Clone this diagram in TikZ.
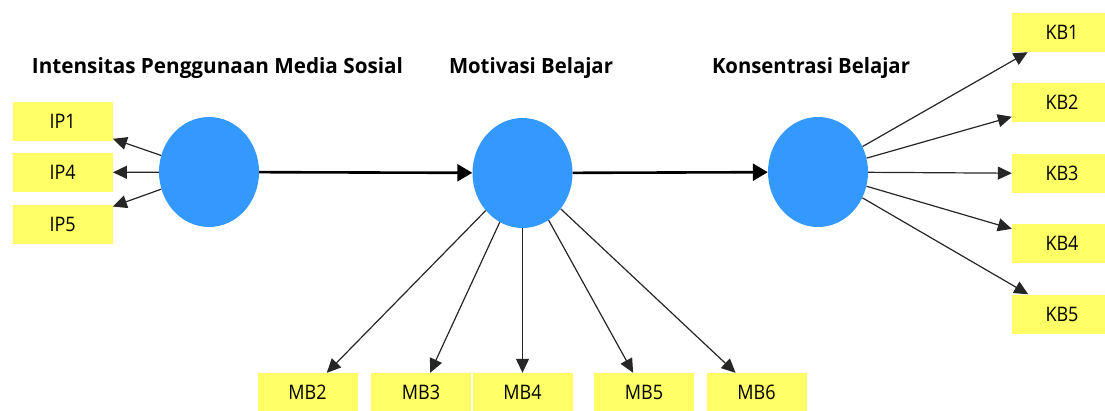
\documentclass[tikz,border=0pt]{standalone}
\usepackage{fontspec}
\setmainfont{Open Sans}
\usetikzlibrary{arrows.meta,shapes.geometric}
\definecolor{lvblue}{HTML}{3399FF}
\definecolor{indyellow}{HTML}{FFFF66}
\definecolor{loadgray}{HTML}{262626}
\newcommand{\sqz}[1]{\scalebox{0.9}[1]{#1}}
\newcommand{\ttl}[2]{\resizebox{#1}{\height}{#2}}
\tikzset{
  latent/.style={ellipse, fill=lvblue, draw=none, minimum width=100pt, minimum height=110pt, inner sep=0pt},
  indicator/.style={rectangle, fill=indyellow, draw=none, minimum width=100pt, minimum height=39pt, inner sep=0pt, font=\fontsize{20}{20}\selectfont},
  title/.style={anchor=base, inner sep=0pt, font=\fontsize{21}{21}\selectfont\bfseries},
  loading/.style={line width=1.2pt, draw=loadgray, -{Triangle[length=14pt,width=13pt]}},
  structural/.style={line width=2.6pt, draw=black, -{Triangle[length=15pt,width=17pt]}}
}
\begin{document}
\begin{tikzpicture}[x=1pt,y=-1pt]
\useasboundingbox (0,0) rectangle (1105,410);
% latent variables
\node[latent] (IP) at (209,172) {};
\node[latent] (MB) at (522.5,173) {};
\node[latent] (KB) at (818,172) {};
% titles
\node[title] (tIP) at (217.5,73) {\ttl{371pt}{Intensitas Penggunaan Media Sosial}};
\node[title] (tMB) at (531,73) {\ttl{164pt}{Motivasi Belajar}};
\node[title] (tKB) at (811,73) {\ttl{198pt}{Konsentrasi Belajar}};
% IP indicators
\node[indicator] (IP1) at (62.7,121.5) {\sqz{IP1}};
\node[indicator] (IP4) at (62.7,172.5) {\sqz{IP4}};
\node[indicator] (IP5) at (62.7,224.5) {\sqz{IP5}};
% MB indicators
\node[indicator] (MB2) at (307.5,392.5) {\sqz{MB2}};
\node[indicator] (MB3) at (421,392.5) {\sqz{MB3}};
\node[indicator] (MB4) at (522.5,392.5) {\sqz{MB4}};
\node[indicator] (MB5) at (644,392.5) {\sqz{MB5}};
\node[indicator] (MB6) at (756.5,392.5) {\sqz{MB6}};
% KB indicators
\node[indicator] (KB1) at (1062,32.5) {\sqz{KB1}};
\node[indicator] (KB2) at (1062,102.5) {\sqz{KB2}};
\node[indicator] (KB3) at (1062,173.5) {\sqz{KB3}};
\node[indicator] (KB4) at (1062,243.5) {\sqz{KB4}};
\node[indicator] (KB5) at (1062,314) {\sqz{KB5}};
% loadings
\foreach \i in {IP1,IP4,IP5} \draw[loading] (IP) -- (\i);
\foreach \i in {MB2,MB3,MB4,MB5,MB6} \draw[loading] (MB) -- (\i);
\foreach \i in {KB1,KB2,KB3,KB4,KB5} \draw[loading] (KB) -- (\i);
% structural paths
\draw[structural] (IP) -- (MB);
\draw[structural] (MB) -- (KB);
\end{tikzpicture}
\end{document}
